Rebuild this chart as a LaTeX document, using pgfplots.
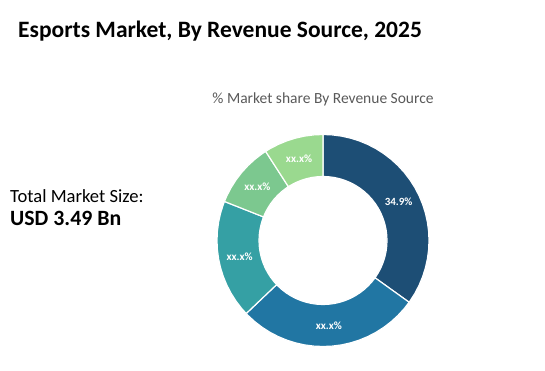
\documentclass[border=0pt]{standalone}
\usepackage{pgfplots}
\pgfplotsset{compat=1.18}
\usepackage{fontspec}
\setmainfont{Carlito}
\definecolor{cNavy}{RGB}{29,78,117}
\definecolor{cBlue}{RGB}{33,118,163}
\definecolor{cTeal}{RGB}{53,160,164}
\definecolor{cGreen}{RGB}{124,200,143}
\definecolor{cLight}{RGB}{154,217,143}
\definecolor{cGray}{RGB}{89,89,89}
\begin{document}
\begin{tikzpicture}[x=1pt,y=1pt]
\useasboundingbox (0,0) rectangle (545,371);
\node[anchor=base west,inner sep=0pt,font=\bfseries\fontsize{23.5}{27}\selectfont] at (18,333.7) {Esports Market, By Revenue Source, 2025};
\node[anchor=base,inner sep=0pt,text=cGray,font=\fontsize{15.5}{18}\selectfont] at (323,267) {\% Market share By Revenue Source};
\node[anchor=base west,inner sep=0pt,font=\fontsize{18.6}{22}\selectfont] at (10,168.3) {Total Market Size:};
\node[anchor=base west,inner sep=0pt,font=\bfseries\fontsize{21.8}{25}\selectfont] at (10,145.3) {USD 3.49 Bn};
\begin{axis}[at={(323pt,130.5pt)},anchor=center,x=1pt,y=1pt,
  xmin=-110,xmax=110,ymin=-110,ymax=110,hide axis,clip=false]
% Navy 34.9%
\addplot[data cs=polar,fill=cNavy,draw=white,line width=1.2pt] coordinates {
(90,106) (85,106) (80,106) (75,106) (70,106) (65,106) (60,106) (55,106) (50,106) (45,106) (40,106) (35,106) (30,106) (25,106) (20,106) (15,106) (10,106) (5,106) (0,106) (-5,106) (-10,106) (-15,106) (-20,106) (-25,106) (-30,106) (-35,106) (-35.64,106)
(-35.64,64) (-35,64) (-30,64) (-25,64) (-20,64) (-15,64) (-10,64) (-5,64) (0,64) (5,64) (10,64) (15,64) (20,64) (25,64) (30,64) (35,64) (40,64) (45,64) (50,64) (55,64) (60,64) (65,64) (70,64) (75,64) (80,64) (85,64) (90,64) (90,106)};
% Blue 28.0%
\addplot[data cs=polar,fill=cBlue,draw=white,line width=1.2pt] coordinates {
(-35.64,106) (-40,106) (-45,106) (-50,106) (-55,106) (-60,106) (-65,106) (-70,106) (-75,106) (-80,106) (-85,106) (-90,106) (-95,106) (-100,106) (-105,106) (-110,106) (-115,106) (-120,106) (-125,106) (-130,106) (-135,106) (-136.44,106)
(-136.44,64) (-135,64) (-130,64) (-125,64) (-120,64) (-115,64) (-110,64) (-105,64) (-100,64) (-95,64) (-90,64) (-85,64) (-80,64) (-75,64) (-70,64) (-65,64) (-60,64) (-55,64) (-50,64) (-45,64) (-40,64) (-35.64,64) (-35.64,106)};
% Teal 18.1%
\addplot[data cs=polar,fill=cTeal,draw=white,line width=1.2pt] coordinates {
(-136.44,106) (-140,106) (-145,106) (-150,106) (-155,106) (-160,106) (-165,106) (-170,106) (-175,106) (-180,106) (-185,106) (-190,106) (-195,106) (-200,106) (-201.6,106)
(-201.6,64) (-200,64) (-195,64) (-190,64) (-185,64) (-180,64) (-175,64) (-170,64) (-165,64) (-160,64) (-155,64) (-150,64) (-145,64) (-140,64) (-136.44,64) (-136.44,106)};
% Green 9.9%
\addplot[data cs=polar,fill=cGreen,draw=white,line width=1.2pt] coordinates {
(-201.6,106) (-205,106) (-210,106) (-215,106) (-220,106) (-225,106) (-230,106) (-235,106) (-237.24,106)
(-237.24,64) (-235,64) (-230,64) (-225,64) (-220,64) (-215,64) (-210,64) (-205,64) (-201.6,64) (-201.6,106)};
% Light green 9.1%
\addplot[data cs=polar,fill=cLight,draw=white,line width=1.2pt] coordinates {
(-237.24,106) (-240,106) (-245,106) (-250,106) (-255,106) (-260,106) (-265,106) (-270,106)
(-270,64) (-265,64) (-260,64) (-255,64) (-250,64) (-245,64) (-240,64) (-237.24,64) (-237.24,106)};
% Labels
\addplot[data cs=polar,draw=none,nodes near coords,point meta=explicit symbolic,
  nodes near coords align={center},
  every node near coord/.append style={text=white,font=\bfseries\fontsize{11}{12}\selectfont,inner sep=0pt}]
  coordinates {(27.18,85) [34.9\%] (-86.04,85) [xx.x\%] (-169.02,85) [xx.x\%] (-219.42,85) [xx.x\%] (-253.62,85) [xx.x\%]};
\end{axis}
\end{tikzpicture}
\end{document}
